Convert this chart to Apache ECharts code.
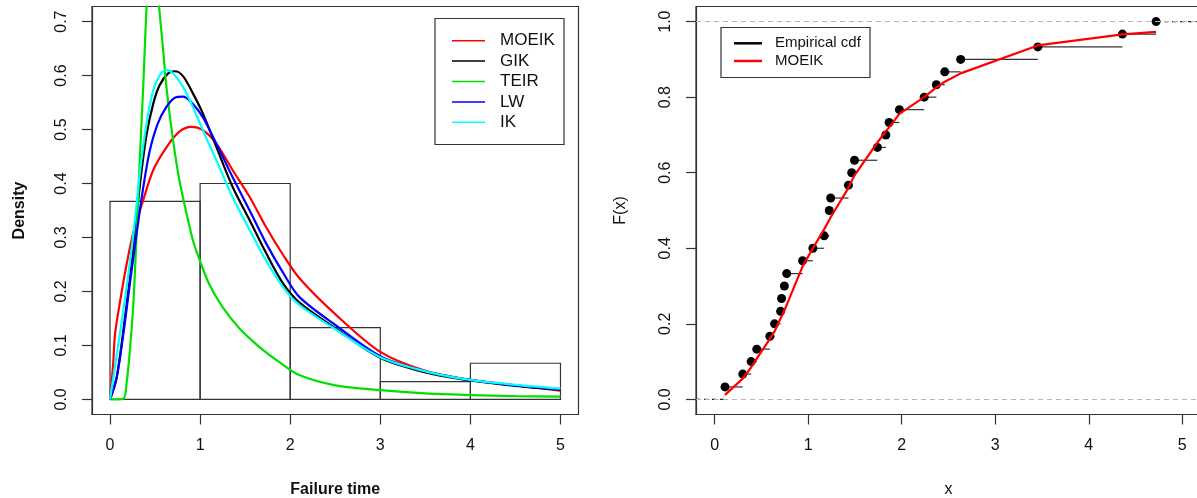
<!DOCTYPE html>
<html>
<head>
<meta charset="utf-8">
<script src="https://cdn.jsdelivr.net/npm/echarts/dist/echarts.min.js"></script>
<style>
html,body{margin:0;padding:0;background:#fff;}
#c{width:1197px;height:498px;}
</style>
</head>
<body>
<div id="c"></div>
<script>
// ---------- Left panel: histogram + fitted densities ----------
const binEdges = [0, 1, 2, 3, 4, 5];
const binDensity = [0.367, 0.400, 0.133, 0.033, 0.067];
const densTicks = [0, 0.1, 0.2, 0.3, 0.4, 0.5, 0.6, 0.7];
const xTicks = [0, 1, 2, 3, 4, 5];

const moeikX = [0, 0.035, 0.055, 0.11, 0.184, 0.26, 0.37, 0.48, 0.63, 0.77, 0.90, 1.03, 1.18, 1.36, 1.55, 1.73, 1.92, 2.10, 2.5, 3.0, 3.5, 4.0, 4.5, 5.0];
const moeikY = [0, 0.066, 0.12, 0.18, 0.25, 0.31, 0.37, 0.425, 0.468, 0.496, 0.505, 0.499, 0.474, 0.425, 0.375, 0.32, 0.268, 0.225, 0.158, 0.088, 0.053, 0.036, 0.026, 0.016];

const gikX = [0, 0.074, 0.18, 0.26, 0.33, 0.405, 0.48, 0.55, 0.645, 0.72, 0.81, 0.92, 1.03, 1.18, 1.36, 1.55, 1.73, 1.92, 2.1, 2.5, 3.0, 3.5, 4.0, 4.5, 5.0];
const gikY = [0, 0.04, 0.17, 0.28, 0.395, 0.49, 0.548, 0.582, 0.604, 0.608, 0.599, 0.567, 0.53, 0.468, 0.394, 0.332, 0.272, 0.215, 0.18, 0.132, 0.077, 0.05, 0.035, 0.025, 0.018];

const teirX = [0, 0.147, 0.184, 0.22, 0.26, 0.295, 0.33, 0.37, 0.405, 0.44, 0.47, 0.50, 0.545, 0.59, 0.626, 0.70, 0.77, 0.85, 0.92, 0.995, 1.10, 1.25, 1.44, 1.66, 1.88, 2.1, 2.5, 3.0, 3.5, 4.0, 4.5, 5.0];
const teirY = [0, 0.001, 0.03, 0.09, 0.18, 0.307, 0.443, 0.585, 0.727, 0.82, 0.845, 0.82, 0.727, 0.647, 0.579, 0.48, 0.406, 0.344, 0.295, 0.258, 0.214, 0.171, 0.131, 0.097, 0.069, 0.045, 0.026, 0.017, 0.011, 0.008, 0.006, 0.005];

const lwX = [0, 0.074, 0.147, 0.22, 0.295, 0.37, 0.44, 0.53, 0.626, 0.72, 0.81, 0.90, 1.03, 1.18, 1.36, 1.55, 1.73, 1.92, 2.1, 2.5, 3.0, 3.5, 4.0, 4.5, 5.0];
const lwY = [0, 0.041, 0.12, 0.214, 0.307, 0.394, 0.46, 0.511, 0.542, 0.559, 0.561, 0.551, 0.523, 0.474, 0.412, 0.35, 0.29, 0.235, 0.19, 0.138, 0.08, 0.052, 0.036, 0.026, 0.019];

const ikX = [0, 0.055, 0.11, 0.184, 0.26, 0.33, 0.405, 0.48, 0.55, 0.626, 0.70, 0.81, 0.92, 1.03, 1.18, 1.36, 1.55, 1.73, 1.92, 2.1, 2.5, 3.0, 3.5, 4.0, 4.5, 5.0];
const ikY = [0, 0.06, 0.122, 0.208, 0.307, 0.418, 0.511, 0.573, 0.60, 0.61, 0.604, 0.579, 0.542, 0.499, 0.443, 0.375, 0.314, 0.258, 0.208, 0.175, 0.13, 0.078, 0.052, 0.036, 0.027, 0.02];

// ---------- Right panel: empirical cdf + fitted MOEIK cdf ----------
const ecdfX = [0.11, 0.30, 0.39, 0.45, 0.59, 0.64, 0.705, 0.715, 0.745, 0.77, 0.94, 1.05, 1.17, 1.225, 1.24, 1.43, 1.465, 1.495, 1.74, 1.83, 1.865, 1.975, 2.24, 2.37, 2.46, 2.63, 3.455, 4.36, 4.72];
const ecdfY = [0.033, 0.067, 0.100, 0.133, 0.167, 0.200, 0.233, 0.267, 0.300, 0.333, 0.367, 0.400, 0.433, 0.500, 0.533, 0.567, 0.600, 0.633, 0.667, 0.700, 0.733, 0.767, 0.800, 0.833, 0.867, 0.900, 0.933, 0.967, 1.000];
const moeikCdf = [0.012, 0.055, 0.085, 0.108, 0.16, 0.18, 0.215, 0.22, 0.235, 0.25, 0.352, 0.40, 0.45, 0.475, 0.482, 0.56, 0.578, 0.593, 0.68, 0.71, 0.72, 0.756, 0.80, 0.826, 0.841, 0.863, 0.937, 0.966, 0.973];
const cdfTicks = [0, 0.2, 0.4, 0.6, 0.8, 1.0];

const FONT = 'Liberation Sans, Arial, sans-serif';
const X_MIN = -0.2, X_MAX = 5.2;

function zipXY(xs, ys) { return xs.map((x, i) => [x, ys[i]]); }

const histData = binDensity.map((h, i) => [binEdges[i], binEdges[i + 1], h]);
const segData = [];
for (let i = 0; i < ecdfX.length - 1; i++) segData.push([ecdfX[i], ecdfX[i + 1], ecdfY[i]]);
const tailData = [[X_MIN, ecdfX[0], 0], [ecdfX[ecdfX.length - 1], X_MAX + 0.2, ecdfY[ecdfY.length - 1]]];

function segRender(style) {
  return function (params, api) {
    const a = api.coord([api.value(0), api.value(2)]);
    const b = api.coord([api.value(1), api.value(2)]);
    return { type: 'line', shape: { x1: a[0], y1: a[1], x2: b[0], y2: b[1] }, style: style };
  };
}

function xAxisCfg(grid, name, bold, gap) {
  return {
    type: 'value', gridIndex: grid, min: X_MIN, max: X_MAX, position: 'bottom',
    axisLine: { show: true, onZero: false, lineStyle: { color: '#333', width: 1.2 } },
    axisTick: { show: true, inside: false, length: 10, customValues: xTicks, lineStyle: { color: '#333', width: 1.2 } },
    axisLabel: { customValues: xTicks, margin: 23, fontSize: 16, color: '#111', fontFamily: FONT },
    splitLine: { show: false },
    name: name, nameLocation: 'middle', nameGap: gap,
    nameTextStyle: { fontSize: 16, color: '#111', fontFamily: FONT, fontWeight: bold ? 'bold' : 'normal' }
  };
}
function yAxisCfg(grid, min, max, ticks, name, bold, gap) {
  return {
    type: 'value', gridIndex: grid, min: min, max: max, position: 'left',
    axisLine: { show: true, onZero: false, lineStyle: { color: '#333', width: 1.2 } },
    axisTick: { show: true, inside: false, length: 10, customValues: ticks, lineStyle: { color: '#333', width: 1.2 } },
    axisLabel: { customValues: ticks, rotate: 90, margin: 22, fontSize: 16, color: '#111', fontFamily: FONT,
      formatter: v => Number(v).toFixed(1) },
    splitLine: { show: false },
    name: name, nameLocation: 'middle', nameGap: gap,
    nameTextStyle: { fontSize: 16, color: '#111', fontFamily: FONT, fontWeight: bold ? 'bold' : 'normal' }
  };
}

function densLine(name, xs, ys, color) {
  return {
    name: name, type: 'line', xAxisIndex: 0, yAxisIndex: 0, data: zipXY(xs, ys),
    showSymbol: false, smooth: 0.3, clip: true,
    lineStyle: { color: color, width: 2.2 }, itemStyle: { color: color }
  };
}

const leftLegend = [['MOEIK', '#ff0000'], ['GIK', '#000000'], ['TEIR', '#00e000'], ['LW', '#0000ff'], ['IK', '#00ffff']];
const rightLegend = [['Empirical cdf', '#000000'], ['MOEIK', '#ff0000']];

const graphics = [];
graphics.push({ type: 'rect', shape: { x: 435, y: 18.5, width: 129, height: 126 }, style: { fill: '#fff', stroke: '#333', lineWidth: 1.2 }, z: 100 });
leftLegend.forEach((it, i) => {
  const y = 40.7 + i * 20.4;
  graphics.push({ type: 'line', shape: { x1: 452, y1: y, x2: 485, y2: y }, style: { stroke: it[1], lineWidth: 1.5 }, z: 101 });
  graphics.push({ type: 'text', x: 500, y: y, style: { text: it[0], fontSize: 17, fontFamily: FONT, fill: '#111', verticalAlign: 'middle', align: 'left' }, z: 101 });
});
graphics.push({ type: 'rect', shape: { x: 721, y: 27.5, width: 149, height: 50 }, style: { fill: '#fff', stroke: '#333', lineWidth: 1.2 }, z: 100 });
rightLegend.forEach((it, i) => {
  const y = 43.3 + i * 17.7;
  graphics.push({ type: 'line', shape: { x1: 734, y1: y, x2: 762, y2: y }, style: { stroke: it[1], lineWidth: 2.5 }, z: 101 });
  graphics.push({ type: 'text', x: 775, y: y, style: { text: it[0], fontSize: 15, fontFamily: FONT, fill: '#111', verticalAlign: 'middle', align: 'left' }, z: 101 });
});

const option = {
  animation: false,
  backgroundColor: '#fff',
  grid: [
    { left: 92, top: 6.5, width: 486.5, height: 408, show: true, borderColor: '#333', borderWidth: 1.2, backgroundColor: 'transparent', containLabel: false, outerBoundsMode: 'none' },
    { left: 696, top: 6.5, width: 505, height: 408, show: true, borderColor: '#333', borderWidth: 1.2, backgroundColor: 'transparent', containLabel: false, outerBoundsMode: 'none' }
  ],
  xAxis: [xAxisCfg(0, 'Failure time', true, 67), xAxisCfg(1, 'x', false, 67)],
  yAxis: [
    yAxisCfg(0, -0.028, 0.728, densTicks, 'Density', true, 64),
    yAxisCfg(1, -0.04, 1.04, cdfTicks, 'F(x)', false, 67)
  ],
  graphic: graphics,
  series: [
    {
      name: 'hist', type: 'custom', xAxisIndex: 0, yAxisIndex: 0, data: histData,
      encode: { x: [0, 1], y: 2 },
      renderItem: function (params, api) {
        const p0 = api.coord([api.value(0), api.value(2)]);
        const p1 = api.coord([api.value(1), 0]);
        return { type: 'rect', shape: { x: p0[0], y: p0[1], width: p1[0] - p0[0], height: p1[1] - p0[1] },
          style: { fill: 'none', stroke: '#333', lineWidth: 1.2 } };
      }
    },
    densLine('MOEIK', moeikX, moeikY, '#ff0000'),
    densLine('GIK', gikX, gikY, '#000000'),
    densLine('TEIR', teirX, teirY, '#00e000'),
    densLine('LW', lwX, lwY, '#0000ff'),
    densLine('IK', ikX, ikY, '#00ffff'),
    {
      name: 'tails', type: 'custom', xAxisIndex: 1, yAxisIndex: 1, data: tailData,
      encode: { x: [0, 1], y: 2 },
      renderItem: segRender({ stroke: '#222', lineWidth: 1.2, lineDash: [4, 4] }),
      markLine: {
        silent: true, symbol: ['none', 'none'], label: { show: false },
        lineStyle: { color: '#b5b5b5', type: [5, 4], width: 1 },
        data: [{ yAxis: 0 }, { yAxis: 1 }]
      }
    },
    {
      name: 'ecdfSeg', type: 'custom', xAxisIndex: 1, yAxisIndex: 1, data: segData,
      encode: { x: [0, 1], y: 2 },
      renderItem: segRender({ stroke: '#333', lineWidth: 1.2 })
    },
    {
      name: 'ecdfPts', type: 'scatter', xAxisIndex: 1, yAxisIndex: 1, data: zipXY(ecdfX, ecdfY),
      symbol: 'circle', symbolSize: 9, itemStyle: { color: '#000', opacity: 1 }
    },
    {
      name: 'MOEIK cdf', type: 'line', xAxisIndex: 1, yAxisIndex: 1, data: zipXY(ecdfX, moeikCdf),
      showSymbol: false, smooth: false, lineStyle: { color: '#ff0000', width: 2.2 }
    }
  ]
};

const chart = echarts.init(document.getElementById('c'), null, { renderer: 'canvas' });
chart.setOption(option);
</script>
</body>
</html>
